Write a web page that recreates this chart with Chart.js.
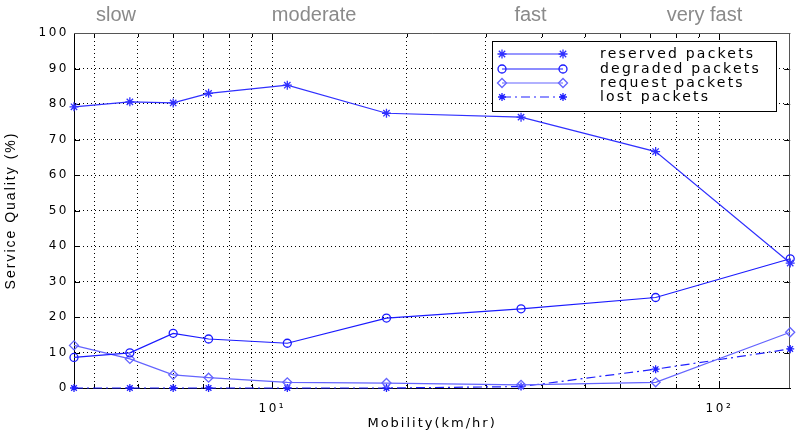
<!DOCTYPE html>
<html><head><meta charset="utf-8">
<script src="https://cdn.jsdelivr.net/npm/chart.js@4.4.1/dist/chart.umd.min.js"></script>
<style>html,body{margin:0;padding:0;background:#fff;}canvas{display:block;}</style>
</head><body>
<canvas id="c" width="796" height="432"></canvas>
<script>
// ---- data ----
const speeds   = [3.6, 4.8, 6, 7.2, 10.8, 18, 36, 72, 144];          // km/hr
const reserved = [79.2, 80.6, 80.3, 83.0, 85.3, 77.4, 76.3, 66.6, 35.2];
const degraded = [8.6, 9.9, 15.4, 13.8, 12.6, 19.7, 22.3, 25.5, 36.4];
const request  = [12.0, 8.2, 3.7, 2.9, 1.6, 1.4, 0.9, 1.6, 15.7];
const lost     = [0, 0, 0, 0, 0, 0, 0.4, 5.3, 11.0];
const seriesNames = ['reserved packets', 'degraded packets', 'request packets', 'lost packets'];
const xGridTicks = [4, 5, 6, 7, 8, 9, 10, 20, 30, 40, 50, 60, 70, 80, 90, 100];
const xTickLabels = {10: '10\u00B9', 100: '10\u00B2'};
const yTickValues = [0, 10, 20, 30, 40, 50, 60, 70, 80, 90, 100];
const speedClasses = ['slow', 'moderate', 'fast', 'very fast'];
const speedClassCentres = [4.47, 12.4, 37.8, 92.6]; // km/hr under each class label

const pts = arr => speeds.map((x, i) => ({x, y: arr[i]}));

const styles = [
  {color: '#3030ff', pointStyle: 'star', radius: 4.5, dash: []},
  {color: '#1a1aff', pointStyle: 'circle', radius: 4, dash: []},
  {color: '#6464ff', pointStyle: 'rectRot', radius: 4.5, dash: []},
  {color: '#2020ff', pointStyle: 'star', radius: 4, dash: [9, 4, 2, 4]}
];
const values = [reserved, degraded, request, lost];

const datasets = values.map((v, i) => ({
  label: seriesNames[i],
  data: pts(v),
  borderColor: styles[i].color,
  backgroundColor: 'rgba(0,0,0,0)',
  pointBorderColor: styles[i].color,
  pointBackgroundColor: 'rgba(0,0,0,0)',
  pointStyle: styles[i].pointStyle,
  pointRadius: styles[i].radius,
  pointBorderWidth: 1.3,
  borderWidth: 1.2,
  borderDash: styles[i].dash,
  tension: 0,
  clip: 8
}));

const frame = {
  id: 'frame',
  beforeDraw(chart) {
    chart.ctx.letterSpacing = '2px'; // axis titles
  },
  beforeDatasetsDraw(chart) {
    const ctx = chart.ctx, a = chart.chartArea, xs = chart.scales.x, ys = chart.scales.y;
    ctx.save();
    ctx.setLineDash([]);
    ctx.strokeStyle = '#000';
    ctx.lineWidth = 1;
    const line = (x1, y1, x2, y2) => { ctx.beginPath(); ctx.moveTo(x1, y1); ctx.lineTo(x2, y2); ctx.stroke(); };
    xs.ticks.forEach(t => {
      const px = Math.round(xs.getPixelForValue(t.value)) + 0.5;
      const len = xTickLabels[t.value] ? 7 : 4;
      line(px, a.bottom, px, a.bottom - len);
      line(px, a.top, px, a.top + len);
    });
    ys.ticks.forEach(t => {
      const py = Math.round(ys.getPixelForValue(t.value)) + 0.5;
      line(a.left, py, a.left + 6, py);
      line(a.right, py, a.right - 6, py);
    });
    ctx.strokeStyle = '#555';
    line(a.left, Math.round(a.top) + 0.5, a.right, Math.round(a.top) + 0.5);
    line(Math.round(a.right) - 0.5, a.top, Math.round(a.right) - 0.5, a.bottom);
    ctx.restore();
  },
  afterDatasetsDraw(chart) {
    chart.ctx.letterSpacing = '2.5px'; // tick labels
  },
  afterDraw(chart) {
    const ctx = chart.ctx, xs = chart.scales.x;
    ctx.save();
    // legend
    const bx = 492, by = 41, bw = 284, bh = 70;
    ctx.letterSpacing = '0px';
    ctx.fillStyle = '#fff';
    ctx.fillRect(bx, by, bw, bh);
    ctx.strokeStyle = '#000';
    ctx.lineWidth = 1;
    ctx.setLineDash([]);
    ctx.strokeRect(bx + 0.5, by + 0.5, bw, bh);
    const rows = [54, 69, 83, 97];
    chart.data.datasets.forEach((ds, i) => {
      const y = rows[i];
      ctx.strokeStyle = ds.borderColor;
      ctx.lineWidth = 1.2;
      ctx.setLineDash(ds.borderDash || []);
      ctx.beginPath(); ctx.moveTo(502, y); ctx.lineTo(563, y); ctx.stroke();
      ctx.setLineDash([]);
      ctx.fillStyle = 'rgba(0,0,0,0)';
      ctx.lineWidth = 1.3;
      const opt = {pointStyle: ds.pointStyle, radius: ds.pointRadius, rotation: 0, borderWidth: 1.3};
      Chart.helpers.drawPoint(ctx, opt, 502, y);
      Chart.helpers.drawPoint(ctx, opt, 563, y);
      ctx.fillStyle = '#000';
      ctx.letterSpacing = '2.2px';
      ctx.font = '14px "DejaVu Sans"';
      ctx.textAlign = 'left';
      ctx.textBaseline = 'middle';
      ctx.fillText(ds.label, 600, y);
      ctx.letterSpacing = '0px';
    });
    // speed-class labels
    ctx.letterSpacing = '0px';
    ctx.font = '20px "Liberation Sans", Arial, sans-serif';
    ctx.fillStyle = '#8a8a8a';
    ctx.textAlign = 'center';
    ctx.textBaseline = 'alphabetic';
    speedClasses.forEach((s, i) => {
      ctx.fillText(s, xs.getPixelForValue(speedClassCentres[i]), 21);
    });
    ctx.restore();
    ctx.letterSpacing = '0px';
  }
};

new Chart(document.getElementById('c'), {
  type: 'line',
  data: {datasets},
  options: {
    responsive: false,
    animation: false,
    devicePixelRatio: 1,
    layout: {padding: {top: 33, right: 2, left: 0, bottom: 0}},
    plugins: {legend: {display: false}, tooltip: {enabled: false}},
    scales: {
      x: {
        type: 'logarithmic',
        min: 3.6,
        max: 144,
        afterBuildTicks: s => { s.ticks = xGridTicks.map(v => ({value: v})); },
        afterFit: s => { s.height = 44; },
        grid: {color: '#000', lineWidth: 1, drawTicks: false},
        border: {display: true, color: '#000', width: 1, dash: [1, 3]},
        ticks: {
          autoSkip: false, maxRotation: 0, minRotation: 0, padding: 14, z: 1,
          color: '#000', font: {family: 'DejaVu Sans', size: 12},
          callback: v => xTickLabels[v] || ''
        },
        title: {display: true, text: 'Mobility(km/hr)', color: '#000',
          font: {family: 'DejaVu Sans', size: 13}, padding: {top: 1, bottom: 1}}
      },
      y: {
        min: 0, max: 100,
        afterBuildTicks: s => { s.ticks = yTickValues.map(v => ({value: v})); },
        afterFit: s => { s.width = 74; },
        grid: {color: '#000', lineWidth: 1, drawTicks: false},
        border: {display: true, color: '#000', width: 1, dash: [1, 3]},
        ticks: {padding: 5, z: 1, color: '#000', font: {family: 'DejaVu Sans', size: 12}},
        title: {display: true, text: 'Service Quality (%)', color: '#000',
          font: {family: 'Liberation Sans', size: 14}, padding: {top: 3, bottom: 0}}
      }
    }
  },
  plugins: [frame]
});
</script>
</body></html>
